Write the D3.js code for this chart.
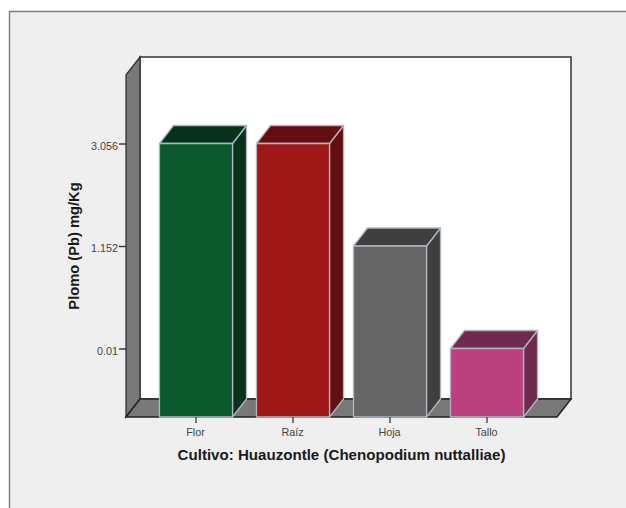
<!DOCTYPE html>
<html>
  <head>
  <meta charset="utf-8">
  <title>Plomo en Huauzontle</title>
  <script src="https://d3js.org/d3.v7.min.js"></script>
  <style>
    html, body { margin: 0; padding: 0; background: #fff; }
    svg { display: block; font-family: 'Liberation Sans', Arial, sans-serif; }
  </style>
  </head>
  <body>
    <svg id="svg" width="626" height="508"></svg>
  <script>
  const categories = ['Flor', 'Raíz', 'Hoja', 'Tallo'];
  const values = [3.056, 3.056, 1.152, 0.01];
  const yTicks = [0.01, 1.152, 3.056];
  const frontColors = ['#0b5a2e', '#a01717', '#666666', '#bb407e'];
  const sideColors = ['#07331c', '#640e0f', '#3f3f3f', '#70294f'];
  const xTitle = 'Cultivo: Huauzontle (Chenopodium nuttalliae)';
  const yTitle = 'Plomo (Pb) mg/Kg';

  const svg = d3.select('#svg');
  const depthX = 14, depthY = 18;
  const plotLeft = 126, plotRight = 557, plotBottom = 417, plotTop = 75;

  // the axis has evenly spaced ticks that are not proportional, so piecewise
  const y = d3.scaleLinear()
    .domain([0, 0.01, 1.152, 3.056, 5.1])
    .range([plotBottom, 348.5, 246, 143.5, plotTop]);
  const x = d3.scaleBand()
    .domain(categories)
    .range([plotLeft, plotRight])
    .paddingInner(0.247)
    .paddingOuter(0.345);

  const poly = pts => pts.map(p => p.join(',')).join(' ');

  // chart frame, it runs off the right edge of the picture
  svg.append('path')
    .attr('d', 'M 9.5,509 V 11.5 H 627 V 509 Z')
    .attr('fill', '#efefef')
    .attr('stroke', '#7d7d7d')
    .attr('stroke-width', 1.4);

  // back wall
  svg.append('rect')
    .attr('x', plotLeft + depthX).attr('y', plotTop - depthY)
    .attr('width', plotRight - plotLeft).attr('height', plotBottom - plotTop)
    .attr('fill', '#fff')
    .attr('stroke', '#333')
    .attr('stroke-width', 1.5);

  // left wall and floor
  svg.append('polygon')
    .attr('points', poly([[plotLeft, plotTop], [plotLeft + depthX, plotTop - depthY], [plotLeft + depthX, plotBottom - depthY], [plotLeft, plotBottom]]))
    .attr('fill', '#787878')
    .attr('stroke', '#333')
    .attr('stroke-width', 1.3);
  svg.append('polygon')
    .attr('points', poly([[plotLeft, plotBottom], [plotLeft + depthX, plotBottom - depthY], [plotRight + depthX, plotBottom - depthY], [plotRight, plotBottom]]))
    .attr('fill', '#787878')
    .attr('stroke', '#222')
    .attr('stroke-width', 1.5);

  // bars
  const bars = svg.selectAll('g.bar')
    .data(categories)
    .join('g')
    .attr('class', 'bar')
    .attr('stroke', '#aeb6c2')
    .attr('stroke-width', 1.3)
    .attr('stroke-linejoin', 'round');

  bars.append('polygon')
    .attr('points', (d, i) => {
      const x0 = x(d), x1 = x0 + x.bandwidth(), t = y(values[i]);
      return poly([[x1, t], [x1 + depthX, t - depthY], [x1 + depthX, plotBottom - depthY], [x1, plotBottom]]);
    })
    .attr('fill', (d, i) => sideColors[i]);

  bars.append('polygon')
    .attr('points', (d, i) => {
      const x0 = x(d), x1 = x0 + x.bandwidth(), t = y(values[i]);
      return poly([[x0, t], [x0 + depthX, t - depthY], [x1 + depthX, t - depthY], [x1, t]]);
    })
    .attr('fill', (d, i) => sideColors[i]);

  bars.append('rect')
    .attr('x', d => x(d))
    .attr('y', (d, i) => y(values[i]))
    .attr('width', x.bandwidth())
    .attr('height', (d, i) => plotBottom - y(values[i]))
    .attr('fill', (d, i) => frontColors[i]);

  // axes
  const yAxis = svg.append('g')
    .attr('transform', `translate(${plotLeft},0)`)
    .call(d3.axisLeft(y).tickValues(yTicks).tickFormat(String).tickSize(7).tickSizeOuter(0));
  const xAxis = svg.append('g')
    .attr('transform', `translate(0,${plotBottom})`)
    .call(d3.axisBottom(x).tickSize(6).tickSizeOuter(0));

  yAxis.select('.domain').remove();
  xAxis.select('.domain').remove();
  yAxis.selectAll('line').attr('stroke', '#333').attr('stroke-width', 1.4);
  xAxis.selectAll('line').attr('stroke', '#444').attr('stroke-width', 1.4);
  yAxis.selectAll('text')
    .attr('x', -8).attr('dy', '0.55em')
    .attr('fill', '#444').style('font-size', '10.8px').style('font-family', 'Liberation Sans');
  xAxis.selectAll('text')
    .attr('x', -0.5).attr('y', 11.5).attr('dy', '0.71em')
    .attr('fill', '#444').style('font-size', '10.8px').style('font-family', 'Liberation Sans');

  // axis titles
  svg.append('text')
    .attr('x', 341.5).attr('y', 460)
    .attr('text-anchor', 'middle')
    .attr('fill', '#1a1a1a')
    .style('font-size', '15.1px').style('font-weight', 'bold')
    .text(xTitle);
  svg.append('text')
    .attr('transform', 'translate(78.5,246) rotate(-90)')
    .attr('text-anchor', 'middle')
    .attr('fill', '#1a1a1a')
    .style('font-size', '14.7px').style('font-weight', 'bold')
    .text(yTitle);
  </script>
  </body>
</html>
